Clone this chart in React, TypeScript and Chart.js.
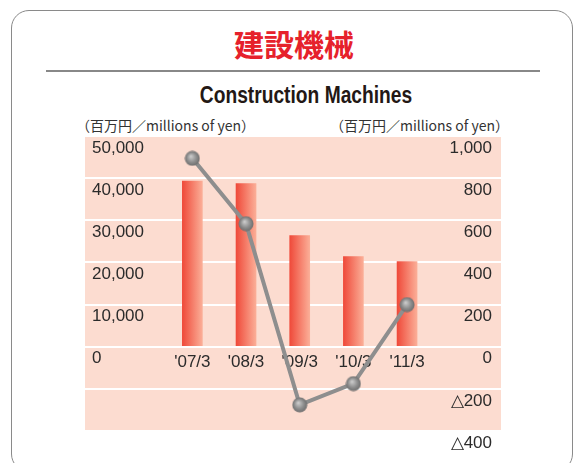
import React, { useEffect, useRef } from 'react';
import { Chart, registerables } from 'chart.js';

Chart.register(...registerables);

// ---- data ----
const categories = ["'07/3", "'08/3", "'09/3", "'10/3", "'11/3"];
const salesValues = [39300, 38700, 26400, 21400, 20200]; // left axis, bars
const profitValues = [894, 584, -276, -175, 200]; // right axis, line
const leftTickValues = [-20000, -10000, 0, 10000, 20000, 30000, 40000, 50000];
const rightTickValues = [-400, -200, 0, 200, 400, 600, 800, 1000];

const titleJa = '建設機械';
const titleEn = 'Construction Machines';
const unitLabel = '（百万円／millions of yen）';

function makeSphere(): HTMLCanvasElement {
  const c = document.createElement('canvas');
  c.width = 16;
  c.height = 16;
  const g = c.getContext('2d')!;
  const grad = g.createRadialGradient(6.5, 6, 0.5, 8, 8, 8);
  grad.addColorStop(0, '#c9c9c9');
  grad.addColorStop(0.55, '#8f8f8f');
  grad.addColorStop(1, '#6a6a6a');
  g.fillStyle = grad;
  g.beginPath();
  g.arc(8, 8, 7.5, 0, Math.PI * 2);
  g.fill();
  return c;
}

const bgPlugin = {
  id: 'pinkBg',
  beforeDraw(chart: any) {
    const { ctx, chartArea } = chart;
    if (!chartArea) return;
    ctx.save();
    ctx.fillStyle = '#fcdcd0';
    ctx.fillRect(chartArea.left, chartArea.top, chartArea.right - chartArea.left, chartArea.bottom - chartArea.top);
    ctx.restore();
  },
};

const tickFont = { family: '"Liberation Sans", Arial, sans-serif', size: 17 };

export default function App() {
  const ref = useRef<HTMLCanvasElement>(null);

  useEffect(() => {
    if (!ref.current) return;
    const sphere = makeSphere();
    const chart = new Chart(ref.current, {
      type: 'bar',
      data: {
        datasets: [
          {
            type: 'line',
            data: profitValues.map((v, i) => ({ x: i, y: v })),
            yAxisID: 'y1',
            xAxisID: 'x',
            borderColor: '#8e8e8e',
            borderWidth: 4,
            pointStyle: sphere as any,
            pointRadius: 8,
            tension: 0,
            clip: false as any,
            order: 0,
          } as any,
          {
            type: 'bar',
            data: salesValues.map((v, i) => ({ x: i, y: v })),
            yAxisID: 'y',
            xAxisID: 'x',
            barThickness: 20,
            order: 1,
            backgroundColor: (ctx: any) => {
              const chart = ctx.chart;
              if (!chart.chartArea || !chart.scales.x) return '#f05a48';
              const cx = chart.scales.x.getPixelForValue(ctx.dataIndex);
              const g = chart.ctx.createLinearGradient(cx - 10, 0, cx + 10, 0);
              g.addColorStop(0, '#ef4a3a');
              g.addColorStop(1, '#fbae97');
              return g;
            },
          } as any,
        ],
      },
      options: {
        animation: false,
        responsive: false,
        devicePixelRatio: 1,
        layout: { padding: { left: 85, right: 73, top: 136, bottom: 32 } },
        plugins: { legend: { display: false }, tooltip: { enabled: false } },
        scales: {
          x: {
            type: 'linear',
            min: -2,
            max: 5.75,
            offset: false,
            position: { y: 0 } as any,
            grid: { display: false, drawTicks: false, offset: false },
            border: { display: false },
            afterBuildTicks: (scale: any) => {
              scale.ticks = categories.map((_, i) => ({ value: i }));
            },
            ticks: {
              padding: 5,
              color: '#2b2b2b',
              font: tickFont,
              maxRotation: 0,
              autoSkip: false,
              callback: (v: any) => categories[v as number] ?? '',
            },
          },
          y: {
            type: 'linear',
            position: 'left',
            min: -20000,
            max: 50000,
            afterFit: (scale: any) => {
              scale.width = 0;
            },
            afterBuildTicks: (scale: any) => {
              scale.ticks = leftTickValues.map((v) => ({ value: v }));
            },
            grid: { color: '#ffffff', lineWidth: 2, drawTicks: false },
            border: { display: false },
            ticks: {
              mirror: true,
              padding: 7,
              labelOffset: 12,
              color: '#2b2b2b',
              font: tickFont,
              callback: (v: any) => (v >= 0 ? Number(v).toLocaleString('en-US') : ''),
            },
          },
          y1: {
            type: 'linear',
            position: 'right',
            min: -400,
            max: 1000,
            afterFit: (scale: any) => {
              scale.width = 0;
            },
            afterBuildTicks: (scale: any) => {
              scale.ticks = rightTickValues.map((v) => ({ value: v }));
            },
            grid: { display: false, drawTicks: false },
            border: { display: false },
            ticks: {
              mirror: true,
              padding: -9,
              labelOffset: 12,
              color: '#2b2b2b',
              font: tickFont,
              callback: (v: any) =>
                v < 0 ? '△' + Math.abs(v).toLocaleString('en-US') : Number(v).toLocaleString('en-US'),
            },
          },
        },
      },
      plugins: [bgPlugin],
    });
    return () => chart.destroy();
  }, []);

  return (
    <div
      style={{
        position: 'fixed',
        left: 0,
        top: 0,
        width: 574,
        height: 463,
        overflow: 'hidden',
        background: '#ffffff',
      }}
    >
      <div
        style={{
          position: 'absolute',
          left: 11,
          top: 10,
          width: 562,
          height: 462,
          border: '1.5px solid #8a8a8a',
          borderRadius: 18,
          boxSizing: 'border-box',
        }}
      />
      <div
        style={{
          position: 'absolute',
          left: 0,
          width: 588,
          top: 28,
          textAlign: 'center',
          fontFamily: '"Noto Sans CJK JP", sans-serif',
          fontWeight: 700,
          fontSize: 30,
          lineHeight: '30px',
          color: '#e6212b',
        }}
      >
        {titleJa}
      </div>
      <div style={{ position: 'absolute', left: 46, top: 70, width: 494, height: 2, background: '#888888' }} />
      <div
        style={{
          position: 'absolute',
          left: 0,
          width: 612,
          top: 82,
          textAlign: 'center',
          fontFamily: '"Liberation Sans", Arial, sans-serif',
          fontWeight: 700,
          fontSize: 23,
          lineHeight: '26px',
          color: '#231815',
          transform: 'scaleX(0.835)',
          transformOrigin: '306px 0',
        }}
      >
        {titleEn}
      </div>
      <div
        style={{
          position: 'absolute',
          left: 76,
          top: 117,
          fontFamily: '"Noto Sans CJK JP", sans-serif',
          fontSize: 14,
          lineHeight: '16px',
          color: '#333333',
          whiteSpace: 'nowrap',
        }}
      >
        {unitLabel}
      </div>
      <div
        style={{
          position: 'absolute',
          right: 574 - 509,
          top: 117,
          fontFamily: '"Noto Sans CJK JP", sans-serif',
          fontSize: 14,
          lineHeight: '16px',
          color: '#333333',
          whiteSpace: 'nowrap',
        }}
      >
        {unitLabel}
      </div>
      <canvas ref={ref} width={574} height={463} style={{ position: 'absolute', left: 0, top: 0 }} />
    </div>
  );
}
